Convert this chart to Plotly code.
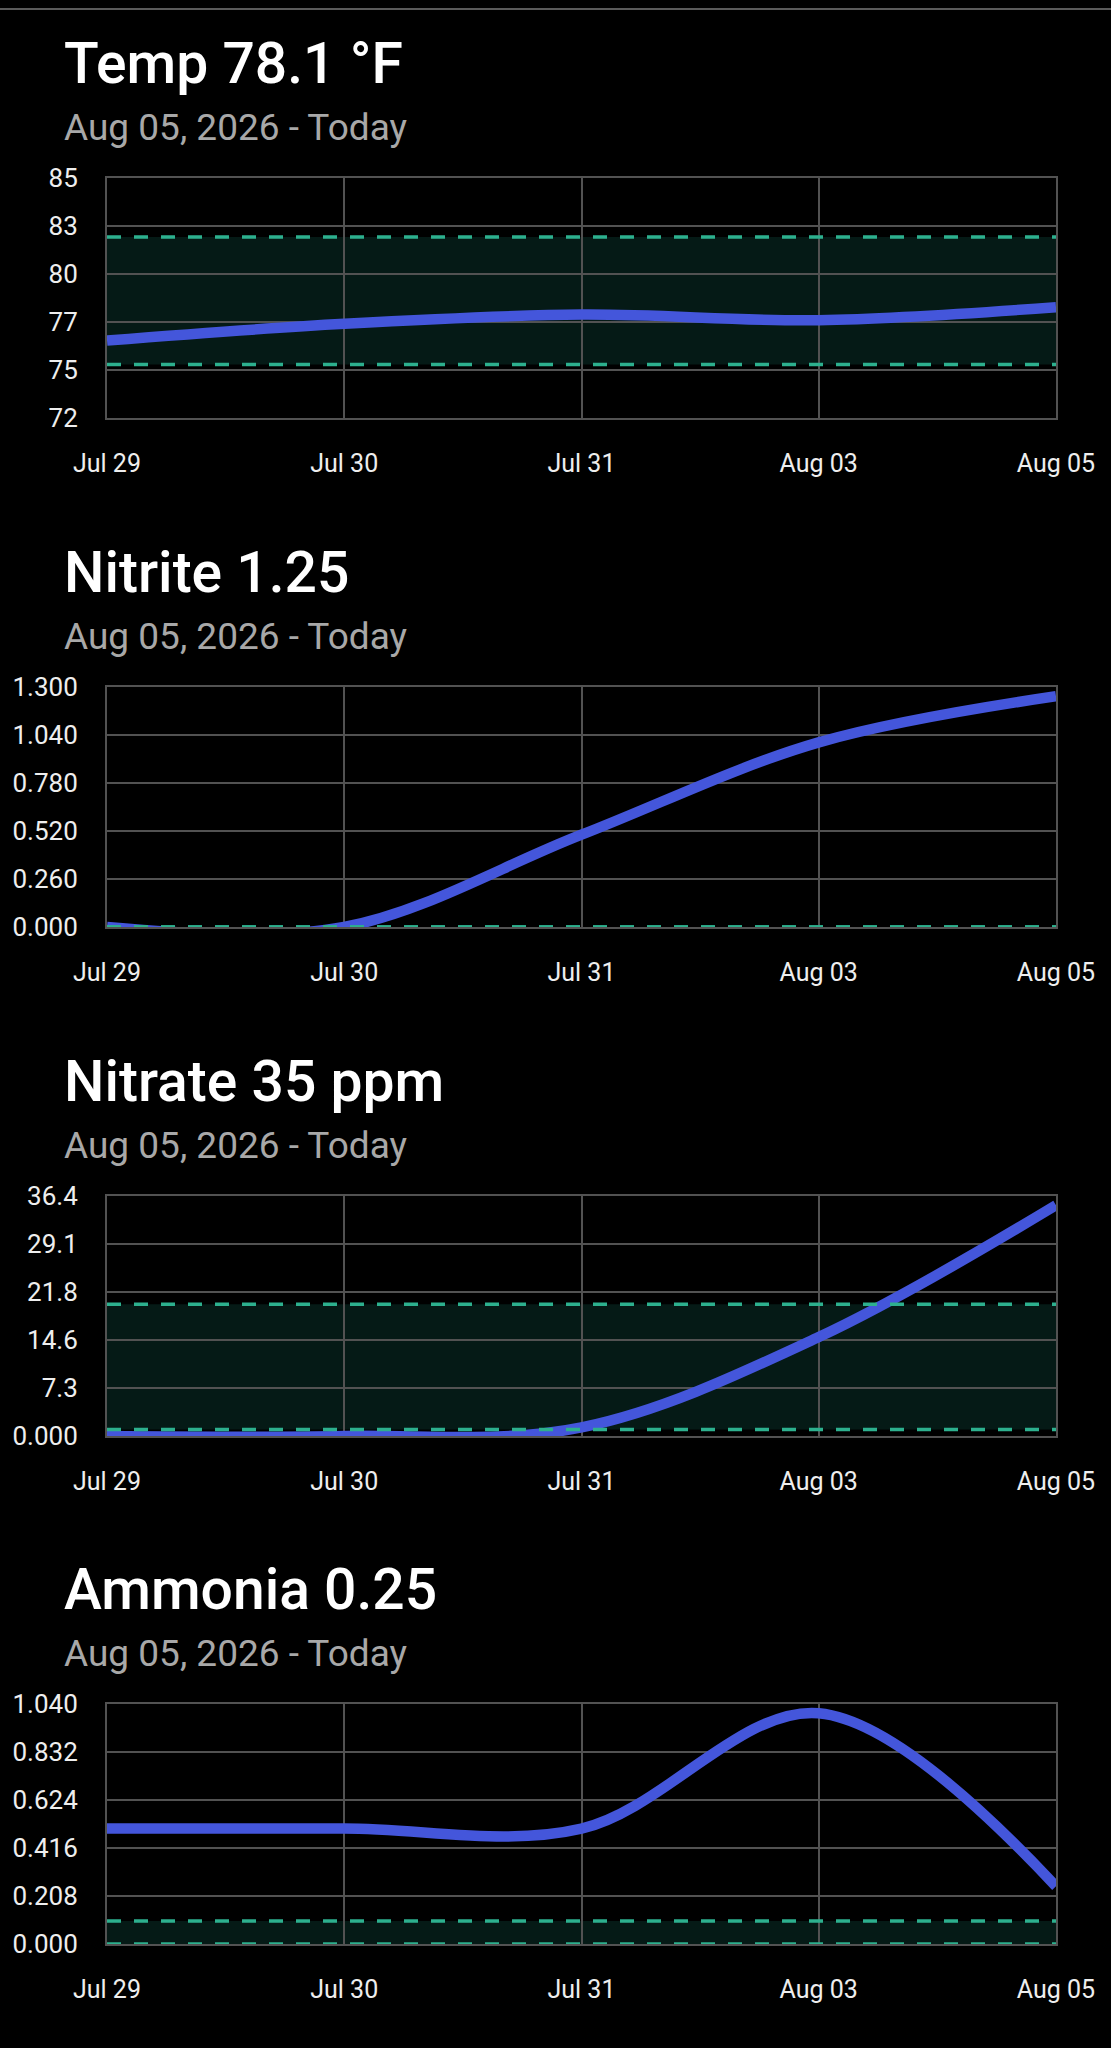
import plotly.graph_objects as go

# ---------------- data ----------------
dates = ["Jul 29", "Jul 30", "Jul 31", "Aug 03", "Aug 05"]

temp_values = [76.2, 77.1, 77.6, 77.3, 78.0]
nitrite_values = [0.0, 0.0, 0.5, 1.0, 1.25]
nitrate_values = [0.0, 0.0, 1.3, 15.0, 35.0]
ammonia_values = [0.5, 0.5, 0.5, 1.0, 0.25]

titles = ["Temp 78.1 °F", "Nitrite 1.25", "Nitrate 35 ppm", "Ammonia 0.25"]
subtitle = "Aug 05, 2026 - Today"

temp_ticks = [72, 74.6, 77.2, 79.8, 82.4, 85]
temp_ticktext = ["72", "75", "77", "80", "83", "85"]
nitrite_ticks = [0, 0.26, 0.52, 0.78, 1.04, 1.3]
nitrite_ticktext = ["0.000", "0.260", "0.520", "0.780", "1.040", "1.300"]
nitrate_ticks = [0, 7.28, 14.56, 21.84, 29.12, 36.4]
nitrate_ticktext = ["0.000", "7.3", "14.6", "21.8", "29.1", "36.4"]
ammonia_ticks = [0, 0.208, 0.416, 0.624, 0.832, 1.04]
ammonia_ticktext = ["0.000", "0.208", "0.416", "0.624", "0.832", "1.040"]

temp_band = [74.9, 81.8]
nitrite_band = [0.0, 0.0]
nitrate_band = [1.0, 20.0]
ammonia_band = [0.0, 0.1]

# ---------------- style ----------------
W, H = 1111, 2048
FONT = "Roboto"
LINE_COLOR = "#4456DB"
DASH_COLOR = "#2DB08E"
BAND_FILL = "#051a16"
GRID = "#525252"
PLOT_LEFT, PLOT_RIGHT = 107, 1056
PLOT_TOPS = [178, 687, 1196, 1704]
PLOT_H = 240

panels = [
    (temp_values, temp_ticks, temp_ticktext, temp_band),
    (nitrite_values, nitrite_ticks, nitrite_ticktext, nitrite_band),
    (nitrate_values, nitrate_ticks, nitrate_ticktext, nitrate_band),
    (ammonia_values, ammonia_ticks, ammonia_ticktext, ammonia_band),
]

fig = go.Figure()
shapes = []
annotations = []
layout_axes = {}

for i, (vals, ticks, ticktext, band) in enumerate(panels):
    n = i + 1
    xa = "x" if n == 1 else f"x{n}"
    ya = "y" if n == 1 else f"y{n}"
    top = PLOT_TOPS[i]
    ydom = [1 - (top + PLOT_H) / H, 1 - top / H]

    fig.add_trace(go.Scatter(
        x=dates, y=vals, mode="lines",
        line=dict(color=LINE_COLOR, width=10.5, shape="spline", smoothing=1),
        xaxis=xa, yaxis=ya, showlegend=False, hoverinfo="skip",
    ))

    layout_axes["xaxis" if n == 1 else f"xaxis{n}"] = dict(
        domain=[PLOT_LEFT / W, PLOT_RIGHT / W], anchor=ya,
        type="category", range=[0, len(dates) - 1],
        showgrid=True, gridcolor=GRID, gridwidth=2,
        showline=True, linecolor=GRID, linewidth=2, mirror=True,
        zeroline=False, ticks="", ticklabelstandoff=22,
        tickfont=dict(family=FONT, size=25, color="#eeeeee"),
        automargin=False, fixedrange=True,
    )
    layout_axes["yaxis" if n == 1 else f"yaxis{n}"] = dict(
        domain=ydom, anchor=xa,
        range=[ticks[0], ticks[-1]],
        tickmode="array", tickvals=ticks, ticktext=ticktext,
        showgrid=True, gridcolor=GRID, gridwidth=2,
        showline=True, linecolor=GRID, linewidth=2, mirror=True,
        zeroline=False, ticks="", ticklabelstandoff=22,
        tickfont=dict(family=FONT, size=26, color="#eeeeee"),
        automargin=False, fixedrange=True,
    )

    # band fill
    shapes.append(dict(
        type="rect", xref=xa, yref=ya,
        x0=0, x1=len(dates) - 1, y0=band[0], y1=band[1],
        fillcolor=BAND_FILL, line=dict(width=0), layer="below",
    ))
    # dashed limits
    for b in band:
        shapes.append(dict(
            type="line", xref=xa, yref=ya,
            x0=0, x1=len(dates) - 1, y0=b, y1=b,
            line=dict(color=DASH_COLOR, width=3.5, dash="14px,13px"),
            layer="above",
        ))

    annotations.append(dict(
        text=titles[i], xref="paper", yref="paper",
        x=62 / W, y=1 - (top - 115) / H, xanchor="left", yanchor="middle",
        showarrow=False, font=dict(family=FONT, size=57, color="#ffffff", weight=500),
    ))
    annotations.append(dict(
        text=subtitle, xref="paper", yref="paper",
        x=62 / W, y=1 - (top - 51) / H, xanchor="left", yanchor="middle",
        showarrow=False, font=dict(family=FONT, size=37, color="#a8a8a8"),
    ))

# top separator line
shapes.append(dict(
    type="line", xref="paper", yref="paper",
    x0=0, x1=1, y0=1 - 9 / H, y1=1 - 9 / H,
    line=dict(color="#5a5a5a", width=2),
))

fig.update_layout(
    width=W, height=H, autosize=False,
    margin=dict(l=0, r=0, t=0, b=0, autoexpand=False),
    paper_bgcolor="#000000", plot_bgcolor="#000000",
    shapes=shapes, annotations=annotations,
    font=dict(family=FONT, color="#eeeeee"),
    **layout_axes,
)

fig.write_html(
    "out.html",
    config={"displayModeBar": False, "responsive": False},
    post_script=(
        "document.documentElement.style.margin='0';"
        "document.documentElement.style.background='#000';"
        "document.body.style.margin='0';"
        "document.body.style.background='#000';"
    ),
)
